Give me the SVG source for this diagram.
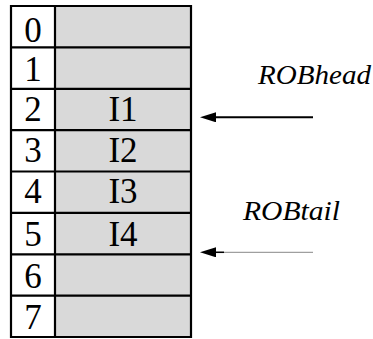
<svg xmlns="http://www.w3.org/2000/svg" width="373" height="339" viewBox="0 0 373 339">
  <style>
    .idx { fill: #ffffff; }
    .slot { fill: #d9d9d9; }
    .grid { stroke: #000; stroke-width: 2.2; fill: none; }
    text { font-family: "Liberation Serif", "Times New Roman", serif; fill: #000; }
    .num { font-size: 35px; text-anchor: middle; }
    .lbl { font-size: 27px; font-style: italic; }
  </style>
  <defs>
    <marker id="head" viewBox="0 0 16 10" refX="1" refY="5" markerWidth="16" markerHeight="10" markerUnits="userSpaceOnUse" orient="auto-start-reverse">
      <path d="M0,0 L16,5 L0,10 Z" fill="#000"/>
    </marker>
  </defs>

  <!-- reorder buffer table: index column and entry column -->
  <g id="rob">
    <rect class="idx" x="11" y="6" width="44" height="331"/>
    <rect class="slot" x="55" y="6" width="136" height="331"/>
    <path class="grid" d="M11,6 H191 V337 H11 Z M55,6 V337 M11,47.4 H191 M11,88.8 H191 M11,130.1 H191 M11,171.5 H191 M11,212.9 H191 M11,254.3 H191 M11,295.6 H191"/>
  </g>

  <g id="row0"><text class="num" x="33" y="41.5">0</text></g>
  <g id="row1"><text class="num" x="33" y="81">1</text></g>
  <g id="row2"><text class="num" x="33" y="121">2</text><text class="num" x="123" y="121">I1</text></g>
  <g id="row3"><text class="num" x="33" y="161.5">3</text><text class="num" x="123" y="161.5">I2</text></g>
  <g id="row4"><text class="num" x="33" y="203">4</text><text class="num" x="123" y="203">I3</text></g>
  <g id="row5"><text class="num" x="33" y="245.5">5</text><text class="num" x="123" y="245.5">I4</text></g>
  <g id="row6"><text class="num" x="33" y="287.5">6</text></g>
  <g id="row7"><text class="num" x="33" y="329">7</text></g>

  <g id="robhead"><text class="lbl" x="258" y="84" textLength="113" lengthAdjust="spacingAndGlyphs">ROBhead</text></g>
  <g id="robtail"><text class="lbl" x="243" y="220" textLength="97" lengthAdjust="spacingAndGlyphs">ROBtail</text></g>

  <!-- head and tail pointers -->
  <g id="connectors">
    <line x1="313" y1="117.3" x2="215" y2="117.3" stroke="#000" stroke-width="2" marker-end="url(#head)"/>
    <line x1="313" y1="252.3" x2="215" y2="252.3" stroke="#888" stroke-width="1"/>
    <line x1="224" y1="252.3" x2="215" y2="252.3" stroke="#000" stroke-width="1.5" marker-end="url(#head)"/>
  </g>
</svg>
